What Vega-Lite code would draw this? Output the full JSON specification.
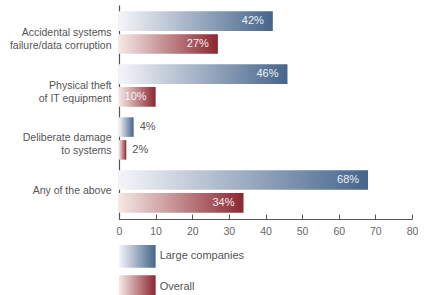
{
  "$schema": "https://vega.github.io/schema/vega-lite/v6.json",
  "padding": {"left": 9, "top": 5, "right": 0, "bottom": 0},
  "background": "white",
  "config": {
    "view": {"stroke": null},
    "font": "Liberation Sans",
    "concat": {"spacing": 8}
  },
  "datasets": {
    "main": [
      {"category": "Accidental systems|failure/data corruption", "series": "Large companies", "value": 42, "label": "42%"},
      {"category": "Accidental systems|failure/data corruption", "series": "Overall", "value": 27, "label": "27%"},
      {"category": "Physical theft|of IT equipment", "series": "Large companies", "value": 46, "label": "46%"},
      {"category": "Physical theft|of IT equipment", "series": "Overall", "value": 10, "label": "10%"},
      {"category": "Deliberate damage|to systems", "series": "Large companies", "value": 4, "label": "4%"},
      {"category": "Deliberate damage|to systems", "series": "Overall", "value": 2, "label": "2%"},
      {"category": "Any of the above", "series": "Large companies", "value": 68, "label": "68%"},
      {"category": "Any of the above", "series": "Overall", "value": 34, "label": "34%"}
    ],
    "legend": [
      {"series": "Large companies"},
      {"series": "Overall"}
    ]
  },
  "vconcat": [
    {
      "width": 293,
      "height": 214,
      "data": {"name": "main"},
      "encoding": {
        "y": {
          "field": "category", "type": "nominal", "sort": null,
          "scale": {"paddingInner": 0.2, "paddingOuter": 0.12},
          "axis": {
            "title": null, "ticks": false, "domainColor": "#555", "domainWidth": 1.2,
            "labelColor": "#555", "labelFontSize": 10.5, "labelLineHeight": 13,
            "labelPadding": 8, "labelLimit": 0,
            "labelExpr": "split(datum.label, '|')"
          }
        },
        "yOffset": {
          "field": "series", "type": "nominal",
          "scale": {"domain": ["Large companies", "Overall"], "paddingInner": 0.14}
        },
        "x": {
          "field": "value", "type": "quantitative",
          "scale": {"domain": [0, 80]},
          "axis": {
            "title": null, "grid": false, "values": [0,10,20,30,40,50,60,70,80],
            "labelOverlap": false, "labelFlush": false,
            "domainColor": "#555", "tickColor": "#555", "tickSize": -5,
            "labelColor": "#666", "labelFontSize": 10.5, "labelPadding": 12
          }
        }
      },
      "layer": [
        {
          "transform": [{"filter": "datum.series === 'Large companies'"}],
          "mark": {"type": "bar", "color": {"gradient": "linear", "x1": 0, "x2": 1, "y1": 0, "y2": 0,
            "stops": [{"offset": 0, "color": "#f5f5f8"}, {"offset": 1, "color": "#46658c"}]}}
        },
        {
          "transform": [{"filter": "datum.series === 'Overall'"}],
          "mark": {"type": "bar", "color": {"gradient": "linear", "x1": 0, "x2": 1, "y1": 0, "y2": 0,
            "stops": [{"offset": 0, "color": "#f5e8e5"}, {"offset": 1, "color": "#8b2731"}]}}
        },
        {
          "transform": [{"filter": "datum.value >= 10"}],
          "mark": {"type": "text", "align": "right", "dx": -9, "color": "#ffffff", "fontSize": 11, "opacity": 0.9},
          "encoding": {"text": {"field": "label", "type": "nominal"}}
        },
        {
          "transform": [{"filter": "datum.value < 10"}],
          "mark": {"type": "text", "align": "left", "dx": 6, "color": "#555", "fontSize": 11},
          "encoding": {"text": {"field": "label", "type": "nominal"}}
        }
      ]
    },
    {
      "width": 293,
      "height": 53,
      "data": {"name": "legend"},
      "encoding": {
        "y": {
          "field": "series", "type": "nominal",
          "scale": {"domain": ["Large companies", "Overall"], "paddingInner": 0.25, "paddingOuter": 0},
          "axis": null
        }
      },
      "layer": [
        {
          "transform": [{"filter": "datum.series === 'Large companies'"}],
          "mark": {"type": "bar", "color": {"gradient": "linear", "x1": 0, "x2": 1, "y1": 0, "y2": 0,
            "stops": [{"offset": 0, "color": "#f5f5f8"}, {"offset": 1, "color": "#46658c"}]}},
          "encoding": {"x": {"datum": 0, "type": "quantitative", "scale": {"domain": [0, 80]}, "axis": null}, "x2": {"datum": 10}}
        },
        {
          "transform": [{"filter": "datum.series === 'Overall'"}],
          "mark": {"type": "bar", "color": {"gradient": "linear", "x1": 0, "x2": 1, "y1": 0, "y2": 0,
            "stops": [{"offset": 0, "color": "#f5e8e5"}, {"offset": 1, "color": "#8b2731"}]}},
          "encoding": {"x": {"datum": 0, "type": "quantitative", "scale": {"domain": [0, 80]}, "axis": null}, "x2": {"datum": 10}}
        },
        {
          "mark": {"type": "text", "align": "left", "dx": 4, "color": "#555", "fontSize": 11},
          "encoding": {
            "x": {"datum": 10, "type": "quantitative", "scale": {"domain": [0, 80]}, "axis": null},
            "text": {"field": "series"}
          }
        }
      ]
    }
  ]
}
